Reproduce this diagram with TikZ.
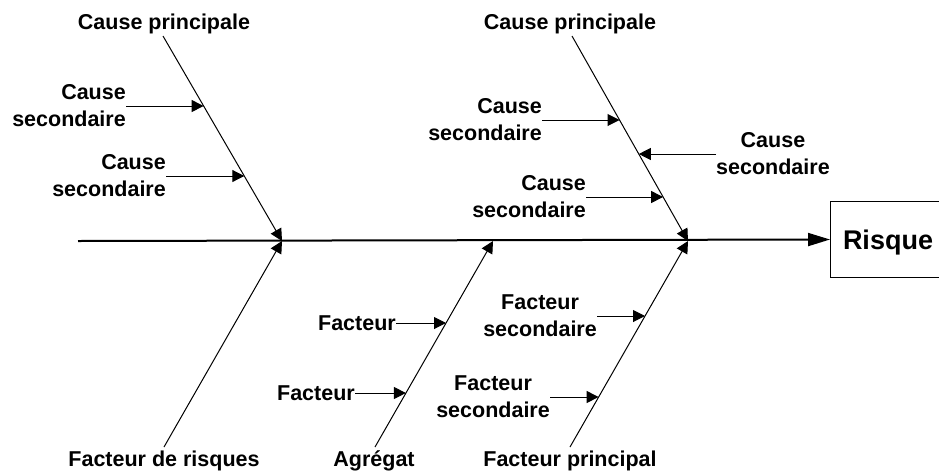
\documentclass[tikz,border=0pt]{standalone}
\usepackage{fontspec}
\setmainfont{Liberation Sans}
\usetikzlibrary{arrows.meta}
\begin{document}
\begin{tikzpicture}[x=1pt,y=-1pt,
  lbl/.style={font=\bfseries\fontsize{21.5}{27}\selectfont, inner sep=0pt},
  bone/.style={line width=1pt, -{Triangle[length=12pt,width=12pt]}},
  subarrow/.style={line width=1pt, -{Triangle[length=12pt,width=12pt]}},
  spine/.style={line width=2pt, -{Triangle[length=22pt,width=13pt]}},
  riskbox/.style={draw, line width=1pt, minimum width=115pt, minimum height=76pt,
    text height=19pt, text depth=0pt, inner sep=0pt,
    font=\bfseries\fontsize{27}{30}\selectfont}]
\useasboundingbox (0,0) rectangle (939,472);

% spine and effect
\coordinate (S) at (78,241);
\node[riskbox, anchor=west] (R) at (830,239.5) {Risque};
\draw[spine] (S) -- (R.west);

% joints on spine
\coordinate (J1) at (282,241);
\coordinate (J2) at (688,241);
\coordinate (J3) at (493,241);

% main causes (top)
\node[lbl, anchor=base] (CP1) at (164,29.5) {Cause principale};
\node[lbl, anchor=base] (CP2) at (570,29.5) {Cause principale};
\coordinate (A1) at (163,36);
\coordinate (A2) at (572,36);
\draw[bone] (A1) -- (J1);
\draw[bone] (A2) -- (J2);

% main factors (bottom)
\node[lbl, anchor=base] (FR) at (164,466.5) {Facteur de risques};
\node[lbl, anchor=base] (AG) at (374,466.5) {Agrégat};
\node[lbl, anchor=base] (FP) at (570,466.5) {Facteur principal};
\coordinate (B1) at (164,447);
\coordinate (B2) at (375,447);
\coordinate (B3) at (570,447);
\draw[bone] (B1) -- (J1);
\draw[bone] (B2) -- (J3);
\draw[bone] (B3) -- (J2);

% secondary causes, left bone
\coordinate (t1) at (203.6,106);
\coordinate (t2) at (244.3,176);
\node[lbl, align=right, anchor=east] (L1) at (126,106) {Cause\\secondaire};
\node[lbl, align=right, anchor=east] (L2) at (166,176) {Cause\\secondaire};
\draw[subarrow] (L1.east) -- (t1);
\draw[subarrow] (L2.east) -- (t2);

% secondary causes, right bone
\coordinate (t3) at (619.5,120);
\coordinate (t4) at (638.8,154);
\coordinate (t5) at (663.1,197);
\node[lbl, align=right, anchor=east] (L3) at (542,120) {Cause\\secondaire};
\node[lbl, align=center, anchor=west] (L4) at (716,154) {Cause\\secondaire};
\node[lbl, align=right, anchor=east] (L5) at (586,197) {Cause\\secondaire};
\draw[subarrow] (L3.east) -- (t3);
\draw[subarrow] (L4.west) -- (t4);
\draw[subarrow] (L5.east) -- (t5);

% factors on aggregate bone
\coordinate (t6) at (446,323);
\coordinate (t7) at (405.9,393);
\node[lbl, anchor=east] (F1) at (396,323) {Facteur};
\node[lbl, anchor=east] (F2) at (355,393) {Facteur};
\draw[subarrow] (F1.east) -- (t6);
\draw[subarrow] (F2.east) -- (t7);

% secondary factors on main factor bone
\coordinate (t8) at (645,316);
\coordinate (t9) at (598.6,397);
\node[lbl, align=center, anchor=east] (FS1) at (597,316) {Facteur\\secondaire};
\node[lbl, align=center, anchor=east] (FS2) at (550,397) {Facteur\\secondaire};
\draw[subarrow] (FS1.east) -- (t8);
\draw[subarrow] (FS2.east) -- (t9);
\end{tikzpicture}
\end{document}
